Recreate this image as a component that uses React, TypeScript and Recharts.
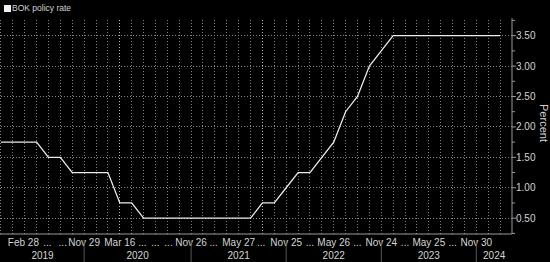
import React from 'react'
import { LineChart, Line, XAxis, YAxis, ReferenceLine } from 'recharts'

// BOK meeting dates and the base rate after each meeting
const meetingDates = [
  '2019-01-24', '2019-02-28', '2019-04-18', '2019-05-31', '2019-07-18', '2019-08-30', '2019-10-16', '2019-11-29',
  '2020-01-17', '2020-02-27', '2020-03-16', '2020-04-09', '2020-05-28', '2020-07-16', '2020-08-27', '2020-10-15', '2020-11-26',
  '2021-01-15', '2021-02-25', '2021-04-15', '2021-05-27', '2021-07-15', '2021-08-26', '2021-10-12', '2021-11-25',
  '2022-01-14', '2022-02-24', '2022-04-14', '2022-05-26', '2022-07-13', '2022-08-25', '2022-10-12', '2022-11-24',
  '2023-01-13', '2023-02-23', '2023-04-11', '2023-05-25', '2023-07-13', '2023-08-24', '2023-10-19', '2023-11-30',
  '2024-01-11', '2024-02-22',
]
const policyRate = [
  1.75, 1.75, 1.75, 1.75, 1.5, 1.5, 1.25, 1.25,
  1.25, 1.25, 0.75, 0.75, 0.5, 0.5, 0.5, 0.5, 0.5,
  0.5, 0.5, 0.5, 0.5, 0.5, 0.75, 0.75, 1.0,
  1.25, 1.25, 1.5, 1.75, 2.25, 2.5, 3.0, 3.25,
  3.5, 3.5, 3.5, 3.5, 3.5, 3.5, 3.5, 3.5,
  3.5, 3.5,
]

// which meetings get a date label, and where the ellipses sit
const labelIdx = [1, 7, 10, 16, 20, 24, 28, 32, 36, 40]
const dotsPos = [3.9, 5.2, 11.9, 13, 14.1, 17.9, 21.9, 26, 30, 34, 38]
const yearLabels = ['2019', '2020', '2021', '2022', '2023', '2024']
const yearMid = [3.5, 11.5, 20, 28, 36, 41.5]
const yearSplit = [7, 16, 24, 32, 40]
const yMajor = [0.5, 1, 1.5, 2, 2.5, 3, 3.5]
const yMinor = [0.25, 0.75, 1.25, 1.75, 2.25, 2.75, 3.25, 3.75]
const markIdx = [10, 22]

const MONTHS = ['Jan', 'Feb', 'Mar', 'Apr', 'May', 'Jun', 'Jul', 'Aug', 'Sep', 'Oct', 'Nov', 'Dec']
const fmt = (d: string) => `${MONTHS[+d.slice(5, 7) - 1]} ${+d.slice(8, 10)}`

const rows = meetingDates.map((d, i) => ({ i, date: d, rate: policyRate[i] }))

const TXT = '#d4d4d4'
const FONT = '"Liberation Sans", Arial, sans-serif'

const DateTick = (props: any) => {
  const { x, y, payload } = props
  const v = payload.value
  const isLabel = labelIdx.includes(v)
  const text = isLabel ? fmt(meetingDates[v]) : '...'
  const first = v === labelIdx[0]
  return (
    <text x={first ? x - 5 : x} y={y + 12} fill={TXT} fontSize={10} fontFamily={FONT}
      textAnchor={first ? 'start' : 'middle'}>
      {text}
    </text>
  )
}

const YearTick = (props: any) => {
  const { x, y, payload } = props
  const v = payload.value
  const k = yearMid.indexOf(v)
  if (k >= 0) {
    return (
      <text x={x} y={y + 12.5} fill={TXT} fontSize={10} fontFamily={FONT} textAnchor="middle">
        {yearLabels[k]}
      </text>
    )
  }
  return <line x1={x} x2={x} y1={y - 6} y2={y + 16} stroke="#555" strokeWidth={1} />
}

const RateTick = (props: any) => {
  const { x, y, payload } = props
  const v = payload.value
  const major = yMajor.includes(v)
  return (
    <g>
      <line x1={x} x2={x + (major ? 4 : 3)} y1={y} y2={y} stroke="#999" />
      {major && (
        <text x={x + 4} y={y + 3.5} fill={TXT} fontSize={10} fontFamily={FONT} textAnchor="start">
          {v.toFixed(2)}
        </text>
      )}
    </g>
  )
}

const PercentLabel = (props: any) => {
  const { viewBox } = props
  const cx = viewBox.x + 28
  const cy = viewBox.y + viewBox.height / 2 - 3
  return (
    <text x={cx} y={cy} fill={TXT} fontSize={11} fontFamily={FONT} textAnchor="middle"
      transform={`rotate(90 ${cx} ${cy})`}>
      Percent
    </text>
  )
}

export default function App() {
  const allIdx = rows.map(r => r.i)
  return (
    <div style={{ position: 'absolute', left: 0, top: 0, width: 550, height: 262, background: '#000' }}>
      <div style={{ position: 'absolute', left: 4, top: 3, display: 'flex', alignItems: 'center', fontFamily: FONT, fontSize: 8.5, color: TXT, zIndex: 2 }}>
        <span style={{ display: 'inline-block', width: 7, height: 7, background: '#f0f0f0', marginRight: 1 }} />
        BOK policy rate
      </div>
      <LineChart width={550} height={262} data={rows} margin={{ top: 18, right: 0, bottom: 0, left: 0 }}>
        {yMajor.map(v => (
          <ReferenceLine key={'h' + v} y={v} stroke="#868686" strokeDasharray="1 2" shapeRendering="crispEdges" />
        ))}
        {allIdx.map(m => (
          <ReferenceLine key={'v' + m} x={m} stroke={markIdx.includes(m) ? '#b8b8b8' : '#828282'} strokeDasharray="1 2" shapeRendering="crispEdges" />
        ))}
        <XAxis
          dataKey="i"
          type="number"
          domain={[-0.08, 43]}
          ticks={[...labelIdx, ...dotsPos]}
          interval={0}
          height={12}
          tickSize={0}
          tickMargin={0}
          tickLine={false}
          axisLine={{ stroke: '#999' }}
          tick={<DateTick />}
        />
        <XAxis
          xAxisId="yr"
          dataKey="i"
          type="number"
          domain={[-0.08, 43]}
          ticks={[...yearMid, ...yearSplit]}
          interval={0}
          height={16}
          tickSize={0}
          tickMargin={0}
          tickLine={false}
          axisLine={false}
          tick={<YearTick />}
        />
        <YAxis
          orientation="right"
          type="number"
          domain={[0.24, 3.79]}
          allowDataOverflow
          ticks={[...yMinor, ...yMajor].sort((a, b) => a - b)}
          interval={0}
          width={38}
          tickSize={0}
          tickMargin={0}
          tickLine={false}
          axisLine={{ stroke: '#999' }}
          tick={<RateTick />}
          label={<PercentLabel />}
        />
        <Line
          dataKey="rate"
          type="linear"
          stroke="#ececec"
          strokeWidth={1.3}
          dot={false}
          isAnimationActive={false}
        />
      </LineChart>
    </div>
  )
}
